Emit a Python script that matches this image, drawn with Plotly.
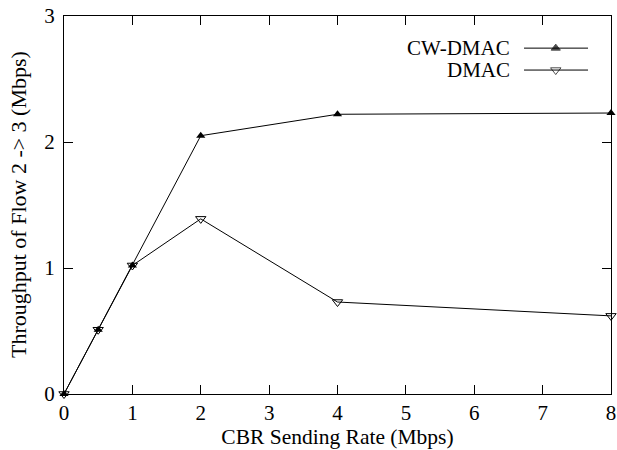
import plotly.graph_objects as go

x_vals = [0, 0.5, 1, 2, 4, 8]
cw_dmac = [0, 0.51, 1.02, 2.05, 2.22, 2.23]
dmac = [0, 0.51, 1.02, 1.39, 0.73, 0.62]
series_names = ["CW-DMAC", "DMAC"]
x_ticks = [0, 1, 2, 3, 4, 5, 6, 7, 8]
y_ticks = [0, 1, 2, 3]

FONT = "Liberation Serif"
fig = go.Figure()
fig.add_trace(go.Scatter(x=x_vals, y=cw_dmac, mode="lines+markers", name=series_names[0],
                         line=dict(color="black", width=1),
                         marker=dict(symbol="triangle-up", size=8, color="black"),
                         cliponaxis=False, showlegend=False))
fig.add_trace(go.Scatter(x=x_vals, y=dmac, mode="lines+markers", name=series_names[1],
                         line=dict(color="black", width=1),
                         marker=dict(symbol="triangle-down-open", size=9, color="black",
                                     line=dict(width=1, color="black")),
                         cliponaxis=False, showlegend=False))

# legend samples on a hidden overlay axis (0..1 over the plot area)
leg_y = [0.915, 0.857]
for i, (sym, sz) in enumerate([("triangle-up", 8), ("triangle-down-open", 9)]):
    fig.add_trace(go.Scatter(x=[0.841, 0.899, 0.958], y=[leg_y[i]] * 3, xaxis="x2", yaxis="y2",
                             mode="lines+markers", showlegend=False, hoverinfo="skip",
                             line=dict(color="black", width=1),
                             marker=dict(symbol=sym, size=[0, sz, 0], color="black",
                                         line=dict(width=1, color="black"))))
    fig.add_annotation(x=0.819, y=leg_y[i], xref="paper", yref="paper", text=series_names[i],
                       showarrow=False, xanchor="right", yanchor="middle",
                       font=dict(family=FONT, size=21, color="black"))

# y-axis title placed like the reference
fig.add_annotation(x=-0.084, y=0.5, xref="paper", yref="paper",
                   text="Throughput of Flow 2 -> 3 (Mbps)", textangle=-90, showarrow=False,
                   xanchor="center", yanchor="middle",
                   font=dict(family=FONT, size=22, color="black"))

axis_common = dict(showline=True, linecolor="black", linewidth=1, mirror="allticks",
                   ticks="inside", ticklen=9, tickcolor="black", tickwidth=1,
                   showgrid=False, zeroline=False,
                   tickfont=dict(family=FONT, size=21, color="black"))
fig.update_layout(
    width=617, height=450,
    margin=dict(l=64, r=6, t=16, b=56),
    font=dict(family=FONT),
    paper_bgcolor="white", plot_bgcolor="white",
    xaxis=dict(range=[0, 8], tickvals=x_ticks, **axis_common, automargin=False,
               title=dict(text="CBR Sending Rate (Mbps)", font=dict(family=FONT, size=21.5, color="black"), standoff=4)),
    yaxis=dict(range=[0, 3], tickvals=y_ticks, **axis_common, ticklabelstandoff=4, automargin=False),
    xaxis2=dict(range=[0, 1], overlaying="x", visible=False),
    yaxis2=dict(range=[0, 1], overlaying="y", visible=False),
    showlegend=False,
)
fig.write_html("out.html")
